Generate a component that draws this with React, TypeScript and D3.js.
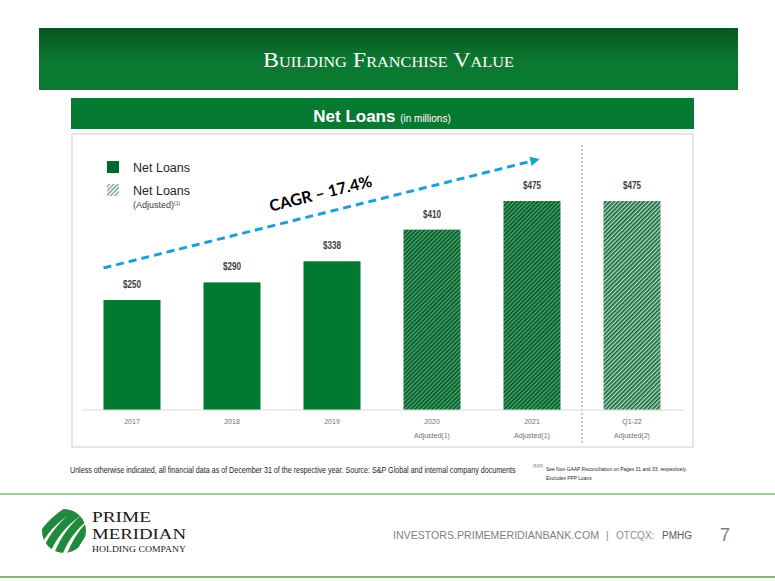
import React from 'react';
import * as d3 from 'd3';

const categories = ['2017', '2018', '2019', '2020', '2021', 'Q1-22'];
const subLabels = ['', '', '', 'Adjusted(1)', 'Adjusted(1)', 'Adjusted(2)'];
const netLoans = [250, 290, 338, 410, 475, 475];
const barKind = ['solid', 'solid', 'solid', 'hatch', 'hatch', 'hatchLight'];
const cagrLabel = 'CAGR – 17.4%';

const W = 775;
const H = 581;
const sans = '"Liberation Sans Narrow", "Arial Narrow", "Liberation Sans", Arial, sans-serif';
const serif = '"Liberation Serif", "Times New Roman", serif';

const App = () => {
  const x = d3
    .scaleBand()
    .domain(categories)
    .range([82, 682])
    .paddingInner(0.43)
    .paddingOuter(0.215);
  const y = d3.scaleLinear().domain([0, 500]).range([410, 190]);

  const fillFor = (k: string) =>
    k === 'solid' ? '#007A33' : k === 'hatch' ? 'url(#hatch)' : 'url(#hatchLight)';

  // CAGR arrow, anchored to the first and 2021 bars
  const x0 = x(categories[0])!;
  const y0 = y(netLoans[0]) - 32;
  const x1 = x(categories[4])! + x.bandwidth() / 2 + 4;
  const y1 = y(netLoans[4]) - 41;
  const ang = (Math.atan2(y1 - y0, x1 - x0) * 180) / Math.PI;

  const divX = (x(categories[4])! + x.bandwidth() + x(categories[5])!) / 2;

  // logo stripes
  const logoStripes = [0, 1, 2, 3];

  return (
    <svg width={W} height={H} style={{ position: 'absolute', left: 0, top: 0, background: '#fff' }}>
      <defs>
        <linearGradient id="hdr" x1="0" y1="0" x2="0" y2="1">
          <stop offset="0%" stopColor="#0a5422" />
          <stop offset="55%" stopColor="#0c7a31" />
          <stop offset="100%" stopColor="#0a7a30" />
        </linearGradient>
        <pattern id="hatch" width="3" height="3" patternUnits="userSpaceOnUse" patternTransform="rotate(45)">
          <rect width="3" height="3" fill="#4fae72" />
          <rect width="1.7" height="3" fill="#005524" />
        </pattern>
        <pattern id="hatchLight" width="3" height="3" patternUnits="userSpaceOnUse" patternTransform="rotate(45)">
          <rect width="3" height="3" fill="#a8e0c0" />
          <rect width="1.6" height="3" fill="#175f37" />
        </pattern>
        <pattern id="hatchLegend" width="3" height="3" patternUnits="userSpaceOnUse" patternTransform="rotate(45)">
          <rect width="3" height="3" fill="#ffffff" />
          <rect width="1.3" height="3" fill="#6f9a7e" />
        </pattern>
        <marker id="arrow" viewBox="0 0 10 10" refX="6" refY="5" markerWidth="3.2" markerHeight="3.2" orient="auto">
          <path d="M0,0 L10,5 L0,10 z" fill="#1e9fd8" />
        </marker>
        <clipPath id="logoClip">
          <circle cx={64} cy={531} r={22} />
        </clipPath>
      </defs>

      {/* header */}
      <rect x={39} y={28} width={699} height={62} fill="url(#hdr)" />
      <text
        x={263}
        y={67}
        fill="#fff"
        fontFamily={serif}
        fontSize={22}
        textLength={251}
        lengthAdjust="spacingAndGlyphs"
        style={{ fontVariant: 'small-caps' }}
      >
        Building Franchise Value
      </text>

      {/* sub header */}
      <rect x={71} y={98} width={623} height={31} fill="#077a32" />
      <text x={382} y={122} textAnchor="middle" fill="#fff" fontFamily={sans}>
        <tspan fontSize={17} fontWeight="bold">Net Loans </tspan>
        <tspan fontSize={10}>(in millions)</tspan>
      </text>

      {/* chart panel */}
      <rect x={72} y={134} width={621} height={313} fill="#fff" stroke="#d6d6d6" strokeWidth={1.2} />

      {/* legend */}
      <rect x={107} y={161} width={12} height={12} fill="#006a2e" />
      <text x={133} y={172} fontFamily={sans} fontSize={12.5} fill="#262626">Net Loans</text>
      <rect x={107} y={184} width={12} height={12} fill="url(#hatchLegend)" />
      <text x={133} y={195} fontFamily={sans} fontSize={12.5} fill="#262626">Net Loans</text>
      <text x={133} y={208} fontFamily={sans} fontSize={9} fill="#404040">
        (Adjusted)<tspan fontSize={5} dy={-3}>(1)</tspan>
      </text>

      {/* divider */}
      <line x1={divX} x2={divX} y1={145} y2={445} stroke="#a6a6a6" strokeWidth={1.2} strokeDasharray="2,2" />

      {/* bars */}
      {categories.map((c, i) => (
        <g key={c}>
          <rect
            x={x(c)}
            y={y(netLoans[i])}
            width={x.bandwidth()}
            height={y(0) - y(netLoans[i])}
            fill={fillFor(barKind[i])}
          />
          <text
            x={x(c)! + x.bandwidth() / 2 - 9}
            y={y(netLoans[i]) - 12}
            fontFamily={sans}
            fontWeight="bold"
            fontSize={10.5}
            fill="#404040"
            textLength={18}
            lengthAdjust="spacingAndGlyphs"
          >
            ${netLoans[i]}
          </text>
          <text
            x={x(c)! + x.bandwidth() / 2}
            y={424}
            textAnchor="middle"
            fontFamily={sans}
            fontSize={7}
            fill="#6f6f6f"
          >
            {c}
          </text>
          {subLabels[i] && (
            <text
              x={x(c)! + x.bandwidth() / 2}
              y={438}
              textAnchor="middle"
              fontFamily={sans}
              fontSize={7}
              fill="#6f6f6f"
            >
              {subLabels[i]}
            </text>
          )}
        </g>
      ))}

      {/* baseline */}
      <line x1={82} x2={684} y1={y(0)} y2={y(0)} stroke="#d9d9d9" strokeWidth={1} />

      {/* CAGR arrow */}
      <line
        x1={x0}
        y1={y0}
        x2={x1}
        y2={y1}
        stroke="#1e9fd8"
        strokeWidth={3}
        strokeDasharray="8,5"
        markerEnd="url(#arrow)"
      />
      <text
        transform={`translate(322,199) rotate(${ang})`}
        textAnchor="middle"
        fontFamily="Lato, 'Open Sans', sans-serif"
        fontWeight="bold"
        fontSize={16}
        fill="#000"
      >
        {cagrLabel}
      </text>

      {/* footnotes (squeezed horizontally like the narrow font of the slide) */}
      <text transform="translate(70,473) scale(0.84,1)" fontFamily={sans} fontSize={8.5} fill="#262626">
        Unless otherwise indicated, all financial data as of December 31 of the respective year. Source: S&amp;P Global and internal company documents
      </text>
      <text x={533} y={467} fontFamily={sans} fontSize={4} fill="#404040">(1)(2)</text>
      <text transform="translate(546,471) scale(0.82,1)" fontFamily={sans} fontSize={6} fill="#262626">
        See Non-GAAP Reconciliation on Pages 31 and 33, respectively.
      </text>
      <text transform="translate(546,480) scale(0.82,1)" fontFamily={sans} fontSize={6} fill="#262626">
        Excludes PPP Loans
      </text>

      {/* footer lines */}
      <rect x={0} y={493} width={W} height={2} fill="#a9c79c" />
      <rect x={0} y={576} width={W} height={2} fill="#8fb27f" />

      {/* logo */}
      <g clipPath="url(#logoClip)">
        {logoStripes.map((s) => (
          <path
            key={s}
            d={`M${30 + s * 13},${560} Q${44 + s * 13},${518} ${86 + s * 13},${502}`}
            fill="none"
            stroke="#1f8a3c"
            strokeWidth={8}
          />
        ))}
      </g>
      <text x={92} y={522} fontFamily={serif} fontSize={15.5} fill="#1a1a1a" textLength={59} lengthAdjust="spacingAndGlyphs">PRIME</text>
      <text x={92} y={539} fontFamily={serif} fontSize={15.5} fill="#1a1a1a" textLength={94} lengthAdjust="spacingAndGlyphs">MERIDIAN</text>
      <text x={92} y={552} fontFamily={serif} fontSize={7.5} fill="#1a1a1a" textLength={94} lengthAdjust="spacingAndGlyphs">HOLDING COMPANY</text>

      {/* footer text */}
      <text x={393} y={539} fontFamily={sans} fontSize={10.5} fill="#7f7f7f" textLength={206} lengthAdjust="spacingAndGlyphs">
        INVESTORS.PRIMEMERIDIANBANK.COM
      </text>
      <text x={606} y={539} fontFamily={sans} fontSize={10.5} fill="#8c8c8c">|</text>
      <text x={616} y={539} fontFamily={sans} fontSize={10} fill="#8c8c8c">OTCQX:</text>
      <text x={662} y={539} fontFamily={sans} fontSize={10} fill="#595959">PMHG</text>
      <text x={720} y={541} fontFamily={sans} fontSize={18} fill="#7f7f7f">7</text>
    </svg>
  );
};

export default App;
